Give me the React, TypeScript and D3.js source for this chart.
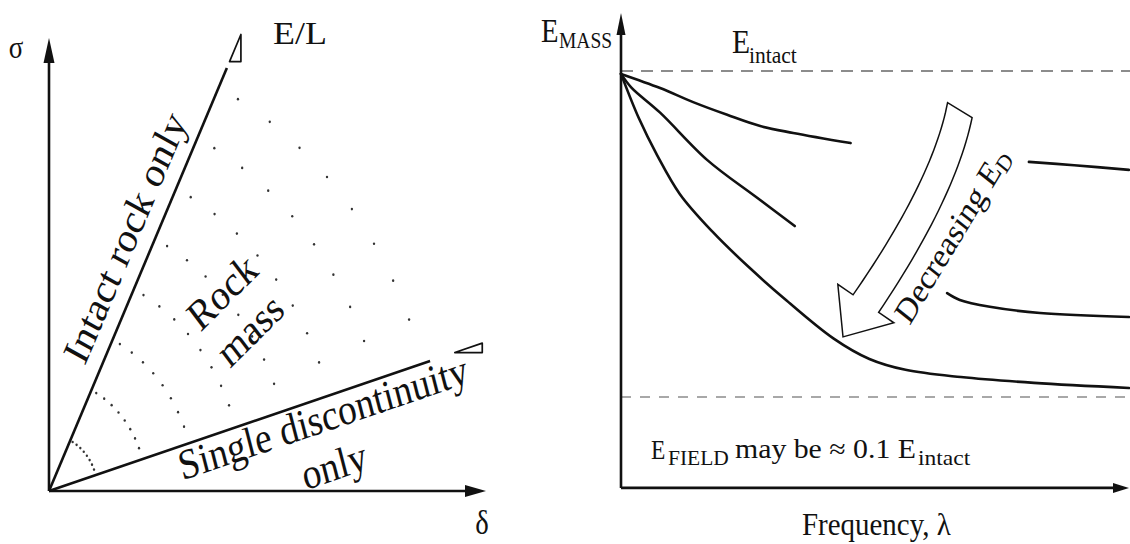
import React from "react";
import * as d3 from "d3";

const W = 1130;
const H = 544;
// The drawing is set slightly condensed horizontally (fonts and circles included).
const SX = 0.87;
const FONT = "'Liberation Serif', 'Times New Roman', Times, serif";
const INK = "#111";

// ---------- Left panel: stress σ against displacement δ ----------
const intactEnd = { delta: 0.407, sigma: 0.934 };
const discontinuityEnd = { delta: 0.872, sigma: 0.287 };
// slope-triangle extent, as fractions of each line's length
const intactMarker = [1.015, 1.079];
const discontinuityMarker = [1.065, 1.137];
// dotted "rock mass" arcs between the two lines
const rockMassArcs = [1, 2, 3, 4, 5, 6, 7, 8];
const arcStep = 56; // radius step of the arcs
const arcDotAngles = [61, 55.5, 50, 44.5, 39, 33.5, 28, 22.5]; // degrees

// ---------- Right panel: E_MASS against frequency λ ----------
const E_INTACT = 1.0;
const E_FIELD = 0.1;
const E_AXIS_MIN = -0.151;
const E_AXIS_MAX = 1.16;

// [λ, E] pairs; each stiffness level is split around the arrow
const highEdNear: [number, number][] = [
  [0, 0.992], [0.077, 0.953], [0.142, 0.914], [0.209, 0.879],
  [0.274, 0.848], [0.339, 0.829], [0.452, 0.801],
];
const highEdFar: [number, number][] = [
  [0.803, 0.749], [0.892, 0.74], [1.0, 0.727],
];
const midEdNear: [number, number][] = [
  [0, 0.992], [0.02, 0.955], [0.077, 0.885], [0.17, 0.754],
  [0.266, 0.652], [0.342, 0.572],
];
const midEdFar: [number, number][] = [
  [0.642, 0.387], [0.667, 0.368], [0.726, 0.349], [0.825, 0.332], [1.0, 0.321],
];
const lowEd: [number, number][] = [
  [0, 0.992], [0.035, 0.87], [0.071, 0.768], [0.116, 0.66], [0.181, 0.555],
  [0.252, 0.458], [0.323, 0.37], [0.418, 0.262], [0.489, 0.205],
  [0.56, 0.175], [0.669, 0.155], [0.813, 0.139], [1.0, 0.125],
];

// hollow curved arrow "Decreasing E_D" in [λ, E]
const decreasingArrow = {
  start: [0.667, 0.892],
  control: [0.636, 0.674],
  end: [0.482, 0.358],
  tip: [0.437, 0.266],
};

type Pt = [number, number];
const toDesign = (p: Pt): Pt => [p[0] / SX, p[1]];
const pts = (arr: Pt[]) => arr.map((p) => p.join(",")).join(" ");

export default function App() {
  const xL = d3.scaleLinear().domain([0, 1]).range([49 / SX, 486 / SX]);
  const yL = d3.scaleLinear().domain([0, 1]).range([491, 38]);
  const xR = d3.scaleLinear().domain([0, 1]).range([621 / SX, 1129 / SX]);
  const yR = d3.scaleLinear().domain([E_FIELD, E_INTACT]).range([397, 71]);

  const ox = xL(0);
  const oy = yL(0);

  // point along a line from origin, in design coordinates
  const onLine = (end: { delta: number; sigma: number }, t: number): Pt => [
    ox + (xL(end.delta) - ox) * t,
    oy + (yL(end.sigma) - oy) * t,
  ];
  const slopeTriangle = (end: { delta: number; sigma: number }, m: number[]) => {
    const a = onLine(end, m[0]);
    const b = onLine(end, m[1]);
    return [a, b, [b[0], a[1]] as Pt];
  };

  // label centre placed along a line (image space offsets)
  const alongLine = (end: { delta: number; sigma: number }, dist: number, perp: number): Pt => {
    const ex = (xL(end.delta) - ox) * SX;
    const ey = yL(end.sigma) - oy;
    const len = Math.hypot(ex, ey);
    const ux = ex / len;
    const uy = ey / len;
    const nx = uy;
    const ny = -ux;
    return [(ox * SX + ux * dist + nx * perp) / SX, oy + uy * dist + ny * perp];
  };

  const dots: Pt[] = [];
  rockMassArcs.forEach((k) => {
    const r = k * arcStep;
    arcDotAngles.forEach((deg) => {
      const a = (deg * Math.PI) / 180;
      dots.push([ox + r * Math.cos(a), oy - r * Math.sin(a)]);
    });
  });

  const line = d3
    .line<Pt>()
    .x((d) => xR(d[0]))
    .y((d) => yR(d[1]))
    .curve(d3.curveCatmullRom.alpha(0.5));

  // arrow outline, built in image space then condensed
  const A = decreasingArrow;
  const imgPt = (p: number[]): Pt => [xR(p[0]) * SX, yR(p[1])];
  const P0 = imgPt(A.start);
  const C = imgPt(A.control);
  const P2 = imgPt(A.end);
  const TIP = imgPt(A.tip);
  const bez = (t: number): Pt => [
    (1 - t) * (1 - t) * P0[0] + 2 * (1 - t) * t * C[0] + t * t * P2[0],
    (1 - t) * (1 - t) * P0[1] + 2 * (1 - t) * t * C[1] + t * t * P2[1],
  ];
  const tan = (t: number): Pt => {
    const dx = 2 * (1 - t) * (C[0] - P0[0]) + 2 * t * (P2[0] - C[0]);
    const dy = 2 * (1 - t) * (C[1] - P0[1]) + 2 * t * (P2[1] - C[1]);
    const l = Math.hypot(dx, dy);
    return [dx / l, dy / l];
  };
  const N = 30;
  const sideA: Pt[] = [];
  const sideB: Pt[] = [];
  for (let i = 0; i <= N; i++) {
    const t = i / N;
    const p = bez(t);
    const d = tan(t);
    const n: Pt = [-d[1], d[0]];
    const hw = 13.5 + 2 * t;
    const skew = i === 0 ? 5 : 0;
    sideA.push([p[0] + n[0] * hw - d[0] * skew, p[1] + n[1] * hw - d[1] * skew]);
    sideB.push([p[0] - n[0] * hw + d[0] * skew, p[1] - n[1] * hw + d[1] * skew]);
  }
  const hd0 = TIP[0] - P2[0];
  const hd1 = TIP[1] - P2[1];
  const hl = Math.hypot(hd0, hd1);
  const hn: Pt = [-hd1 / hl, hd0 / hl];
  const headHalf = 34;
  const cornerA: Pt = [P2[0] + hn[0] * headHalf, P2[1] + hn[1] * headHalf];
  const cornerB: Pt = [P2[0] - hn[0] * headHalf, P2[1] - hn[1] * headHalf];
  const outline = [...sideA, cornerA, TIP, cornerB, ...sideB.slice().reverse()].map(toDesign);
  const arrowPath = "M" + outline.map((p) => p.join(",")).join("L") + "Z";

  // axis arrowheads
  const sigmaTip: Pt = [ox, yL(1)];
  const deltaTip: Pt = [xL(1), oy];
  const rox = xR(0);
  const roy = yR(E_AXIS_MIN);
  const eTip: Pt = [rox, yR(E_AXIS_MAX)];
  const lamTip: Pt = [xR(1), roy];

  const intactLabel = alongLine(intactEnd, 263, 28);
  const singleLabel = alongLine(discontinuityEnd, 283, -19);
  const onlyLabel = alongLine(discontinuityEnd, 278, -68);
  const degU = (Math.atan2(oy - yL(intactEnd.sigma), xL(intactEnd.delta) - ox) * 180) / Math.PI;
  const degL = (Math.atan2(oy - yL(discontinuityEnd.sigma), xL(discontinuityEnd.delta) - ox) * 180) / Math.PI;

  const lineStroke = { stroke: INK, strokeWidth: 2.6, fill: "none", vectorEffect: "non-scaling-stroke" as const };
  const text = { fontFamily: FONT, fill: INK };

  return (
    <svg
      width={W}
      height={H}
      viewBox={`0 0 ${W} ${H}`}
      style={{ position: "absolute", left: 0, top: 0, display: "block", background: "#fff" }}
    >
      <rect x={0} y={0} width={W} height={H} fill="#fff" />
      <g transform={`scale(${SX},1)`}>
        {/* ---------- left panel ---------- */}
        <g>
          {dots.map((d, i) => (
            <circle key={i} cx={d[0]} cy={d[1]} r={1.35} fill="#333" />
          ))}
          <line x1={ox} y1={oy} x2={ox} y2={sigmaTip[1] + 12} {...lineStroke} />
          <polygon
            points={pts([sigmaTip, [ox - 5.5 / SX, sigmaTip[1] + 25], [ox + 5.5 / SX, sigmaTip[1] + 25]])}
            fill={INK}
          />
          <line x1={ox} y1={oy} x2={deltaTip[0] - 10 / SX} y2={oy} {...lineStroke} />
          <polygon
            points={pts([deltaTip, [deltaTip[0] - 21 / SX, oy - 6], [deltaTip[0] - 21 / SX, oy + 6]])}
            fill={INK}
          />
          {[intactEnd, discontinuityEnd].map((e, i) => (
            <line key={i} x1={ox} y1={oy} x2={xL(e.delta)} y2={yL(e.sigma)} {...lineStroke} />
          ))}
          {[slopeTriangle(intactEnd, intactMarker), slopeTriangle(discontinuityEnd, discontinuityMarker)].map(
            (tri, i) => (
              <polygon
                key={i}
                points={pts(tri)}
                fill="none"
                stroke={INK}
                strokeWidth={1.7}
                strokeLinejoin="round"
                vectorEffect="non-scaling-stroke"
              />
            )
          )}

          <text x={16 / SX} y={58} fontSize={31} textAnchor="middle" {...text}>σ</text>
          <text x={482 / SX} y={534} fontSize={33} textAnchor="middle" {...text}>δ</text>
          <text x={273 / SX} y={44} fontSize={31} textLength={62} lengthAdjust="spacingAndGlyphs" {...text}>
            E/L
          </text>

          <text
            x={intactLabel[0]}
            y={intactLabel[1]}
            fontSize={43}
            textAnchor="middle"
            dominantBaseline="central"
            transform={`rotate(${-degU},${intactLabel[0]},${intactLabel[1]})`}
            {...text}
          >
            Intact rock only
          </text>
          <text
            x={singleLabel[0]}
            y={singleLabel[1]}
            fontSize={43}
            textAnchor="middle"
            dominantBaseline="central"
            transform={`rotate(${-degL},${singleLabel[0]},${singleLabel[1]})`}
            {...text}
          >
            Single discontinuity
          </text>
          <text
            x={onlyLabel[0]}
            y={onlyLabel[1]}
            fontSize={43}
            textAnchor="middle"
            dominantBaseline="central"
            transform={`rotate(${-degL},${onlyLabel[0]},${onlyLabel[1]})`}
            {...text}
          >
            only
          </text>
          <text
            x={222 / SX}
            y={292}
            fontSize={43}
            textAnchor="middle"
            dominantBaseline="central"
            transform={`rotate(-41,${222 / SX},292)`}
            {...text}
          >
            Rock
          </text>
          <text
            x={250 / SX}
            y={330}
            fontSize={43}
            textAnchor="middle"
            dominantBaseline="central"
            transform={`rotate(-41,${250 / SX},330)`}
            {...text}
          >
            mass
          </text>
        </g>

        {/* ---------- right panel ---------- */}
        <g>
          <line
            x1={rox}
            y1={yR(E_INTACT)}
            x2={W / SX}
            y2={yR(E_INTACT)}
            stroke="#8c8c8c"
            strokeWidth={2}
            strokeDasharray="12 8"
            vectorEffect="non-scaling-stroke"
          />
          <line
            x1={rox}
            y1={yR(E_FIELD)}
            x2={W / SX}
            y2={yR(E_FIELD)}
            stroke="#8c8c8c"
            strokeWidth={1.5}
            strokeDasharray="10 9"
            vectorEffect="non-scaling-stroke"
          />

          <line x1={rox} y1={roy} x2={rox} y2={eTip[1] + 12} {...lineStroke} />
          <polygon
            points={pts([eTip, [rox - 4.5 / SX, eTip[1] + 22], [rox + 4.5 / SX, eTip[1] + 22]])}
            fill={INK}
          />
          <line x1={rox} y1={roy} x2={lamTip[0] - 8 / SX} y2={roy} {...lineStroke} />
          <polygon
            points={pts([lamTip, [lamTip[0] - 16 / SX, roy - 5], [lamTip[0] - 16 / SX, roy + 5]])}
            fill={INK}
          />

          {[highEdNear, highEdFar, midEdNear, midEdFar, lowEd].map((c, i) => (
            <path key={i} d={line(c) || ""} {...lineStroke} strokeLinecap="round" />
          ))}

          <path
            d={arrowPath}
            fill="#fff"
            stroke={INK}
            strokeWidth={1.5}
            strokeLinejoin="miter"
            vectorEffect="non-scaling-stroke"
          />
          <text
            x={952 / SX}
            y={235}
            fontSize={35}
            textAnchor="middle"
            dominantBaseline="central"
            transform={`rotate(-55.3,${952 / SX},235)`}
            {...text}
          >
            Decreasing E
            <tspan fontSize={24} dy={8}>D</tspan>
          </text>

          {/* E_MASS */}
          <text x={541 / SX} y={42} fontSize={33} {...text}>E</text>
          <text x={559 / SX} y={48} fontSize={23} textLength={61} lengthAdjust="spacingAndGlyphs" {...text}>
            MASS
          </text>
          {/* E_intact */}
          <text x={732 / SX} y={53} fontSize={34} {...text}>E</text>
          <text x={749 / SX} y={63} fontSize={24} textLength={55} lengthAdjust="spacingAndGlyphs" {...text}>
            intact
          </text>
          {/* E_FIELD may be ≈ 0.1 E_intact */}
          <text x={651 / SX} y={459} fontSize={27} {...text}>E</text>
          <text x={668 / SX} y={465} fontSize={22} textLength={70} lengthAdjust="spacingAndGlyphs" {...text}>
            FIELD
          </text>
          <text x={735 / SX} y={458} fontSize={27} textLength={208} lengthAdjust="spacingAndGlyphs" {...text}>
            may be ≈ 0.1 E
          </text>
          <text x={918 / SX} y={465} fontSize={22} textLength={60} lengthAdjust="spacingAndGlyphs" {...text}>
            intact
          </text>
          <text x={802 / SX} y={535} fontSize={32} textLength={171} lengthAdjust="spacingAndGlyphs" {...text}>
            Frequency, λ
          </text>
        </g>
      </g>
    </svg>
  );
}
